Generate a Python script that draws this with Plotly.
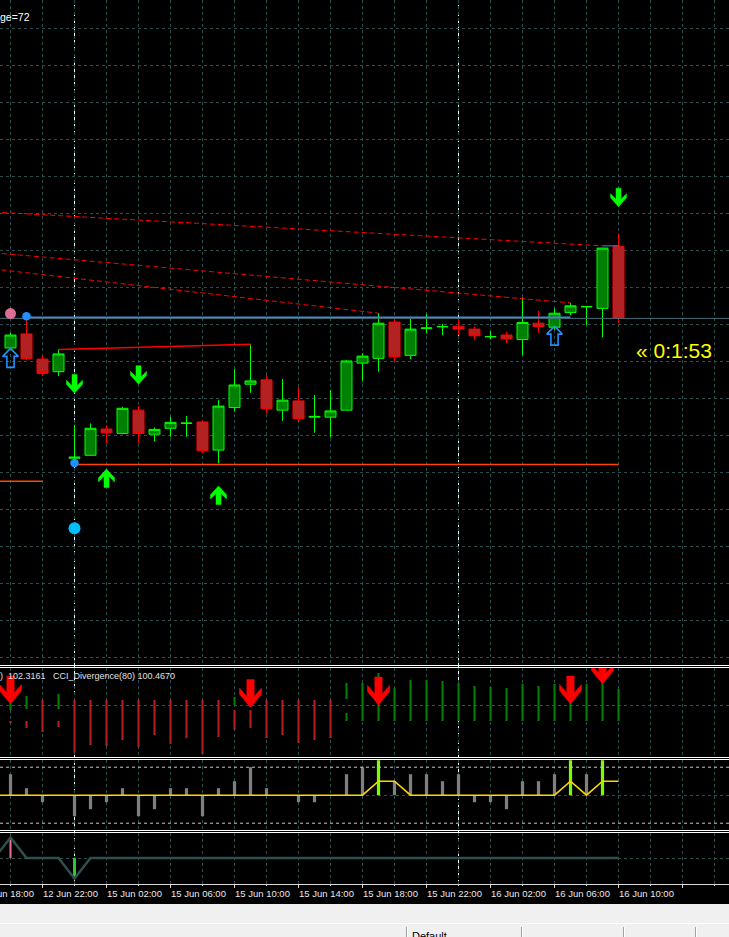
import pandas as pd
import plotly.graph_objects as go
from plotly.subplots import make_subplots

FIG_W, FIG_H = 729, 937
BAR_PX = 16.0          # horizontal spacing of the H1 bars
FIRST_BAR_PX = 10.5    # centre of bar 0 measured from the left edge

# ------------------------------------------------------------------ data
# hourly bar clock (weekend skipped); bar 0 = 12 Jun 20:00
bar_times = pd.date_range("2015-06-12 18:00", "2015-06-12 23:00", freq="h").append(
    pd.date_range("2015-06-15 00:00", "2015-06-16 10:00", freq="h"))
bar_times_index = list(range(-2, -2 + len(bar_times)))

candle_index = list(range(39))
open_ = [1.12436, 1.12474, 1.12406, 1.12372, 1.12138, 1.12146, 1.12217, 1.12205, 1.12268, 1.12203,
         1.12219, 1.12232, 1.12236, 1.12160, 1.12275, 1.12338, 1.12350, 1.12268, 1.12293, 1.12249,
         1.12249, 1.12268, 1.12395, 1.12408, 1.12506, 1.12416, 1.12489, 1.12493, 1.12495, 1.12487,
         1.12466, 1.12471, 1.12459, 1.12503, 1.12492, 1.12532, 1.12547, 1.12543, 1.12711]
high = [1.12477, 1.12522, 1.12417, 1.12432, 1.12228, 1.12232, 1.12227, 1.12277, 1.12279, 1.12221,
        1.12250, 1.12252, 1.12241, 1.12295, 1.12379, 1.12446, 1.12363, 1.12352, 1.12330, 1.12309,
        1.12322, 1.12404, 1.12422, 1.12530, 1.12516, 1.12516, 1.12528, 1.12501, 1.12516, 1.12494,
        1.12482, 1.12479, 1.12573, 1.12536, 1.12543, 1.12558, 1.12548, 1.12707, 1.12746]
low = [1.12434, 1.12403, 1.12360, 1.12360, 1.12136, 1.12145, 1.12178, 1.12203, 1.12178, 1.12183,
       1.12196, 1.12196, 1.12151, 1.12124, 1.12264, 1.12315, 1.12260, 1.12239, 1.12237, 1.12207,
       1.12194, 1.12267, 1.12345, 1.12372, 1.12399, 1.12406, 1.12476, 1.12471, 1.12471, 1.12458,
       1.12459, 1.12449, 1.12417, 1.12477, 1.12485, 1.12525, 1.12498, 1.12465, 1.12504]
close = [1.12471, 1.12407, 1.12367, 1.12420, 1.12141, 1.12219, 1.12207, 1.12273, 1.12205, 1.12216,
         1.12235, 1.12233, 1.12158, 1.12279, 1.12336, 1.12347, 1.12272, 1.12295, 1.12245, 1.12251,
         1.12266, 1.12401, 1.12414, 1.12503, 1.12412, 1.12487, 1.12490, 1.12494, 1.12487, 1.12469,
         1.12467, 1.12461, 1.12505, 1.12494, 1.12530, 1.12550, 1.12548, 1.12706, 1.12516]

# arrow signals on the price chart (tip prices)
sell_index = [4, 8, 38]
sell_price = [1.12314, 1.12338, 1.12818]
buy_index = [6, 13]
buy_price = [1.12109, 1.12063]
hollow_buy_index = [0, 34]
hollow_buy_price = [1.12435, 1.12495]

# dots
pink_dot_index, pink_dot_price = [0], [1.12529]
blue_dot_index, blue_dot_price = [1, 4], [1.12522, 1.12125]
cyan_dot_index, cyan_dot_price = [4], [1.11949]

# horizontal levels
blue_level = 1.12519
blue_level_span = [1, 35]
support_level = 1.12121
support_span = [4, 38]
old_support_level = 1.12076
old_support_span = [-3, 2]
resistance_from, resistance_to = 3, 15     # joins the two highs

# dashed trend lines: (start index, start price, end index, end price)
trend_lines = [(-10, 1.12825, 37, 1.12712),
               (-10, 1.12727, 35, 1.12558),
               (-10, 1.12694, 23, 1.12530)]
top_mark_span = [37, 38]

# CCI divergence histogram: (bar, top, bottom)
cci_up = [(0, 10, -25), (1, 45, -20), (3, 55, -20), (14, 40, 0), (21, 110, 30), (21, -40, -80),
          (22, 110, -80), (23, 160, -80), (24, 85, -80), (25, 125, -80), (26, 125, -80),
          (27, 120, -80), (28, 110, -80), (29, 95, -80), (30, 90, -80), (31, 85, -80),
          (32, 105, -80), (33, 95, -80), (34, 105, -80), (35, 105, -80), (36, 105, -80),
          (37, 110, -80), (38, 80, -80)]
cci_dn = [(0, -80, -90), (1, -80, -115), (2, 25, -135), (3, -80, -110), (4, 25, -238),
          (5, 25, -200), (6, 25, -205), (7, 25, -175), (8, 25, -210), (9, 25, -150),
          (10, 25, -195), (11, 25, -165), (12, 25, -245), (13, 25, -160), (14, -25, -125),
          (15, -25, -115), (16, 25, -165), (17, 25, -150), (18, 25, -190), (19, 25, -175),
          (20, 25, -165)]
cci_arrow_index = [0, 15, 23, 35, 37]
cci_arrow_value = [5, -13, 0, 5, 105]

# oscillator histogram, signal spikes and signal line
osc_index = list(range(39))
osc_hist = [3, 1, -1, 0, -3, -2, -1, 1, -3, -2,
            1, 1, -3, 1, 2, 4, 1, 0, -1, -1,
            0, 3, 4, 0, 2, 3, 3, 2, 3, -1,
            -1, -2, 2, 2, 3, 0, 3, 0, 0]
osc_spike_index = [23, 35, 37]
osc_spike_value = [5, 5, 5]
line_index = list(range(-1, 39))
osc_line = [0, 0, 0, 0, 0, 0, 0, 0, 0, 0,
            0, 0, 0, 0, 0, 0, 0, 0, 0, 0,
            0, 0, 0, 0, 2, 2, 0, 0, 0, 0,
            0, 0, 0, 0, 0, 0, 2, 0, 2, 2]
osc_levels = [4, -4]

# bottom signal pane
sig_line = [0, 1, 0, 0, 0, -1, 0, 0, 0, 0,
            0, 0, 0, 0, 0, 0, 0, 0, 0, 0,
            0, 0, 0, 0, 0, 0, 0, 0, 0, 0,
            0, 0, 0, 0, 0, 0, 0, 0, 0, 0]
sig_up_index, sig_up_value = [0], [1]
sig_dn_index, sig_dn_value = [4], [-1]

# ------------------------------------------------------------ geometry
def ypaper(px):
    return 1 - px / FIG_H


MAIN_DOM = [ypaper(664.5), 1.0]
CCI_DOM = [ypaper(757), ypaper(668)]
OSC_DOM = [ypaper(830), ypaper(760)]
SIG_DOM = [ypaper(883.5), ypaper(833)]

PRICE_GRID = 0.001
PRICE_PER_PX = PRICE_GRID / 37.0
PRICE_REF, PRICE_REF_PX = 1.125, 324.3
MAIN_RANGE = [PRICE_REF - (664.5 - PRICE_REF_PX) * PRICE_PER_PX, PRICE_REF + PRICE_REF_PX * PRICE_PER_PX]
CCI_RANGE = [-260, 185]
OSC_RANGE = [-4.97, 5.03]
SIG_RANGE = [-1.244, 1.22]

X_MIN = -FIRST_BAR_PX / BAR_PX
X_MAX = X_MIN + FIG_W / BAR_PX


def per_px(rng, dom):
    return (rng[1] - rng[0]) / ((dom[1] - dom[0]) * FIG_H)


def xpaper(i):
    return (i - X_MIN) / (X_MAX - X_MIN)


def solid_arrows(idx, tips, down, hw, hs, h, ypp):
    xs, ys = [], []
    s = 1 if down else -1
    pts = [(0, 0), (hw, 0.48 * h), (hw, 0.70 * h), (hs, 0.40 * h), (hs, h),
           (-hs, h), (-hs, 0.40 * h), (-hw, 0.70 * h), (-hw, 0.48 * h), (0, 0)]
    for cx, tip in zip(idx, tips):
        xs += [cx + dx / BAR_PX for dx, dy in pts] + [None]
        ys += [tip + s * dy * ypp for dx, dy in pts] + [None]
    return xs, ys


def hollow_up_arrows(idx, tips, hw, hh, hs, h, ypp):
    xs, ys = [], []
    pts = [(0, 0), (hw, hh), (hs, hh), (hs, h), (-hs, h), (-hs, hh), (-hw, hh), (0, 0)]
    for cx, tip in zip(idx, tips):
        xs += [cx + dx / BAR_PX for dx, dy in pts] + [None]
        ys += [tip - dy * ypp for dx, dy in pts] + [None]
    return xs, ys


main_ypp = per_px(MAIN_RANGE, MAIN_DOM)
cci_ypp = per_px(CCI_RANGE, CCI_DOM)

# ------------------------------------------------------------- figure
fig = make_subplots(rows=4, cols=1, vertical_spacing=0)

GRID = "#2F4F4F"
GRID_DASH = "3px,3px"

# --- price pane
fig.add_trace(go.Scatter(x=[X_MIN - 1, X_MAX + 1], y=[close[-1], close[-1]], mode="lines",
                         line=dict(color="#41707A", width=1)), row=1, col=1)
fig.add_trace(go.Scatter(x=blue_level_span, y=[blue_level, blue_level], mode="lines",
                         line=dict(color="#3C8AD6", width=1.3)), row=1, col=1)
fig.add_trace(go.Scatter(x=support_span, y=[support_level, support_level], mode="lines",
                         line=dict(color="#FF4500", width=1.4)), row=1, col=1)
fig.add_trace(go.Scatter(x=old_support_span, y=[old_support_level, old_support_level], mode="lines",
                         line=dict(color="#FF4500", width=1.4)), row=1, col=1)
fig.add_trace(go.Scatter(x=[resistance_from, resistance_to],
                         y=[high[resistance_from], high[resistance_to]], mode="lines",
                         line=dict(color="#FF0000", width=1.4)), row=1, col=1)
for x0, p0, x1, p1 in trend_lines:
    fig.add_trace(go.Scatter(x=[x0, x1], y=[p0, p1], mode="lines",
                             line=dict(color="#FF0000", width=1, dash="5px,3px")), row=1, col=1)
fig.add_trace(go.Scatter(x=top_mark_span, y=[trend_lines[0][3], trend_lines[0][3]], mode="lines",
                         line=dict(color="#3C8AD6", width=1)), row=1, col=1)

fig.add_trace(go.Candlestick(
    x=candle_index, open=open_, high=high, low=low, close=close,
    increasing=dict(line=dict(color="#00FF00", width=1), fillcolor="#008000"),
    decreasing=dict(line=dict(color="#FF0000", width=1), fillcolor="#B22222"),
    whiskerwidth=0), row=1, col=1)

ax, ay = solid_arrows(sell_index, sell_price, True, 8, 2.5, 18.5, main_ypp)
fig.add_trace(go.Scatter(x=ax, y=ay, mode="lines", fill="toself", fillcolor="#00FF00",
                         line=dict(color="#00FF00", width=0.5)), row=1, col=1)
ax, ay = solid_arrows(buy_index, buy_price, False, 8, 2.5, 18.5, main_ypp)
fig.add_trace(go.Scatter(x=ax, y=ay, mode="lines", fill="toself", fillcolor="#00FF00",
                         line=dict(color="#00FF00", width=0.5)), row=1, col=1)
ax, ay = hollow_up_arrows(hollow_buy_index, hollow_buy_price, 7.8, 8, 3.6, 19, main_ypp)
fig.add_trace(go.Scatter(x=ax, y=ay, mode="lines",
                         line=dict(color="#1E90FF", width=1.6)), row=1, col=1)

fig.add_trace(go.Scatter(x=pink_dot_index, y=pink_dot_price, mode="markers",
                         marker=dict(color="#DB7093", size=11, line=dict(width=0))), row=1, col=1)
fig.add_trace(go.Scatter(x=blue_dot_index, y=blue_dot_price, mode="markers",
                         marker=dict(color="#1E90FF", size=8.5, line=dict(width=0))), row=1, col=1)
fig.add_trace(go.Scatter(x=cyan_dot_index, y=cyan_dot_price, mode="markers",
                         marker=dict(color="#00BFFF", size=12, line=dict(width=0))), row=1, col=1)

# --- CCI divergence pane
fig.add_trace(go.Bar(x=[b for b, t, l in cci_up], y=[t - l for b, t, l in cci_up],
                     base=[l for b, t, l in cci_up], width=0.13,
                     marker=dict(color="#008000", line=dict(width=0))), row=2, col=1)
fig.add_trace(go.Bar(x=[b for b, t, l in cci_dn], y=[t - l for b, t, l in cci_dn],
                     base=[l for b, t, l in cci_dn], width=0.13,
                     marker=dict(color="#B22222", line=dict(width=0))), row=2, col=1)
ax, ay = solid_arrows(cci_arrow_index, cci_arrow_value, True, 11, 3.7, 28, cci_ypp)
fig.add_trace(go.Scatter(x=ax, y=ay, mode="lines", fill="toself", fillcolor="#FF0000",
                         line=dict(color="#FF0000", width=0.5)), row=2, col=1)

# --- oscillator pane
fig.add_trace(go.Bar(x=osc_index, y=osc_hist, width=0.2,
                     marker=dict(color="#808080", line=dict(width=0))), row=3, col=1)
fig.add_trace(go.Bar(x=osc_spike_index, y=osc_spike_value, width=0.2,
                     marker=dict(color="#7CFC00", line=dict(width=0))), row=3, col=1)
fig.add_trace(go.Scatter(x=line_index, y=osc_line, mode="lines",
                         line=dict(color="#FFD700", width=1.6)), row=3, col=1)

# --- signal pane
fig.add_trace(go.Scatter(x=line_index, y=sig_line, mode="lines",
                         line=dict(color="#2F4F4F", width=2.5)), row=4, col=1)
fig.add_trace(go.Bar(x=sig_up_index, y=sig_up_value, width=0.13,
                     marker=dict(color="#DB7093", line=dict(width=0))), row=4, col=1)
fig.add_trace(go.Bar(x=sig_dn_index, y=sig_dn_value, width=0.18,
                     marker=dict(color="#32CD32", line=dict(width=0))), row=4, col=1)

# ------------------------------------------------------------- axes
xcommon = dict(range=[X_MIN, X_MAX], showticklabels=False, showgrid=True, gridcolor=GRID,
               gridwidth=1, griddash=GRID_DASH, tick0=0, dtick=2, zeroline=False,
               showline=False, ticks="", fixedrange=True)
fig.update_layout(
    xaxis=dict(xcommon, rangeslider=dict(visible=False)),
    xaxis2=dict(xcommon),
    xaxis3=dict(xcommon),
    xaxis4=dict(xcommon, tick0=2, dtick=4, showline=True, linecolor="#D8D8D8", linewidth=1,
                ticks="outside", ticklen=3, tickcolor="#D8D8D8", tickwidth=1,
                minor=dict(tick0=0, dtick=2, ticks="outside", ticklen=1, tickcolor="#D8D8D8",
                           showgrid=True, gridcolor=GRID, griddash=GRID_DASH, gridwidth=1)),
    yaxis=dict(domain=MAIN_DOM, range=MAIN_RANGE, tick0=PRICE_REF, dtick=PRICE_GRID,
               showgrid=True, gridcolor=GRID, griddash=GRID_DASH, showticklabels=False,
               zeroline=False, ticks=""),
    yaxis2=dict(domain=CCI_DOM, range=CCI_RANGE, tickmode="array", tickvals=[0],
                showgrid=True, gridcolor=GRID, griddash=GRID_DASH, showticklabels=False,
                zeroline=False, ticks=""),
    yaxis3=dict(domain=OSC_DOM, range=OSC_RANGE, tickmode="array", tickvals=[0],
                showgrid=True, gridcolor=GRID, griddash=GRID_DASH, showticklabels=False,
                zeroline=False, ticks=""),
    yaxis4=dict(domain=SIG_DOM, range=SIG_RANGE, tickmode="array", tickvals=[0],
                showgrid=True, gridcolor=GRID, griddash=GRID_DASH, showticklabels=False,
                zeroline=False, ticks=""),
)

# ------------------------------------------------------------- shapes
shapes = []
# day separators through every pane
for t, i in zip(bar_times, bar_times_index):
    if t.hour == 0:
        shapes.append(dict(type="line", xref="x", yref="paper", x0=i, x1=i,
                           y0=ypaper(884), y1=1, layer="below",
                           line=dict(color="#FFFFFF", width=1, dash="4px,3px")))
# oscillator levels
for lv in osc_levels:
    shapes.append(dict(type="line", xref="x3 domain", yref="y3", x0=0, x1=1, y0=lv, y1=lv,
                       line=dict(color="#C8C8C8", width=1, dash="3px,3px")))
# pane borders
for px in [665.5, 667.5, 757.5, 759.5, 830.5, 832.5]:
    shapes.append(dict(type="line", xref="paper", yref="paper", x0=0, x1=1,
                       y0=ypaper(px), y1=ypaper(px), line=dict(color="#FFFFFF", width=1)))
# terminal status area
shapes.append(dict(type="rect", xref="paper", yref="paper", x0=0, x1=1,
                   y0=0, y1=ypaper(904), fillcolor="#F0F0F0", line=dict(width=0)))
shapes.append(dict(type="line", xref="paper", yref="paper", x0=0, x1=1,
                   y0=ypaper(923.5), y1=ypaper(923.5), line=dict(color="#FFFFFF", width=1)))
for px in [406.5, 521.5, 623.5, 695.5]:
    shapes.append(dict(type="line", xref="paper", yref="paper", x0=px / FIG_W, x1=px / FIG_W,
                       y0=0, y1=ypaper(927), line=dict(color="#A0A0A0", width=1)))
    shapes.append(dict(type="line", xref="paper", yref="paper", x0=(px + 1) / FIG_W,
                       x1=(px + 1) / FIG_W, y0=0, y1=ypaper(927),
                       line=dict(color="#FFFFFF", width=1)))

# ------------------------------------------------------------- text
ann = []
for t, i in zip(bar_times, bar_times_index):
    if (i - 2) % 4 == 0:
        ann.append(dict(xref="paper", yref="paper", x=xpaper(i), y=ypaper(893.5),
                        xanchor="left", yanchor="middle", xshift=-1.5, showarrow=False,
                        text=t.strftime("%d %b %H:%M"),
                        font=dict(family="Liberation Sans", size=9.5, color="#E8E8E8")))
ann.append(dict(xref="paper", yref="paper", x=0, y=ypaper(17), xanchor="left", yanchor="middle",
                xshift=-2, showarrow=False, text="ge=72",
                font=dict(family="Liberation Sans", size=10.5, color="#FFFFFF")))
ann.append(dict(xref="paper", yref="paper", x=0, y=ypaper(676), xanchor="left", yanchor="middle",
                xshift=-2, showarrow=False, text=")  102.3161   CCI_Divergence(80) 100.4670",
                font=dict(family="Liberation Sans", size=9, color="#E0E0E0")))
ann.append(dict(xref="paper", yref="paper", x=634 / FIG_W, y=ypaper(350), xanchor="left",
                yanchor="middle", showarrow=False, text="« 0:1:53",
                font=dict(family="Liberation Sans", size=21, color="#FFFF00")))
ann.append(dict(xref="paper", yref="paper", x=410 / FIG_W, y=ypaper(936), xanchor="left",
                yanchor="middle", showarrow=False, text="Default",
                font=dict(family="Liberation Sans", size=11, color="#000000")))

fig.update_layout(
    width=FIG_W, height=FIG_H, margin=dict(l=0, r=0, t=0, b=0),
    paper_bgcolor="#000000", plot_bgcolor="#000000", showlegend=False,
    barmode="overlay", boxgap=0.3125, boxgroupgap=0, hovermode=False,
    shapes=shapes, annotations=ann,
)

fig.write_html("out.html")
